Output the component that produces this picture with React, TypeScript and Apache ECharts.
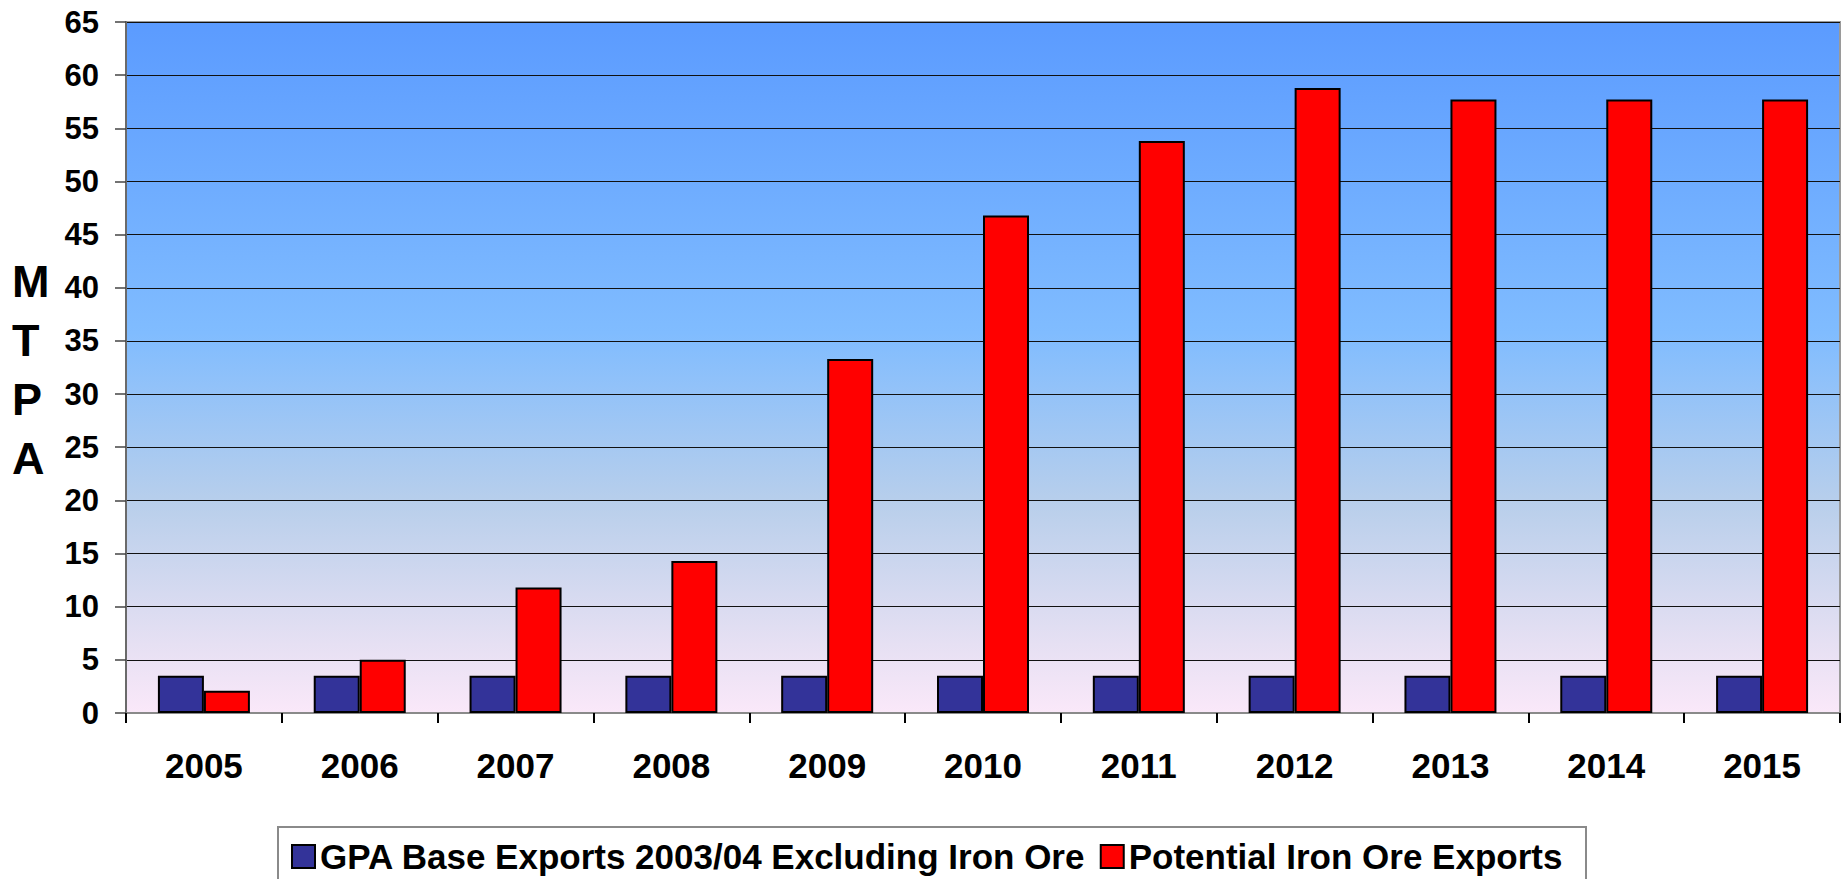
import React, { useEffect, useRef } from "react";
import * as echarts from "echarts";

const years = ["2005", "2006", "2007", "2008", "2009", "2010", "2011", "2012", "2013", "2014", "2015"];
const gpaBase = [3.5, 3.5, 3.5, 3.5, 3.5, 3.5, 3.5, 3.5, 3.5, 3.5, 3.5];
const ironOre = [2.1, 5.0, 11.8, 14.3, 33.3, 46.8, 53.8, 58.8, 57.7, 57.7, 57.7];
const seriesNames = ["GPA Base Exports 2003/04 Excluding Iron Ore", "Potential Iron Ore Exports"];
const yTicks = { min: 0, max: 65, interval: 5 };

const FONT = "'Liberation Sans', Arial, sans-serif";

export default function App() {
  const ref = useRef<HTMLDivElement>(null);
  useEffect(() => {
    if (!ref.current) return;
    const chart = echarts.init(ref.current, null, { renderer: "svg" });
    chart.setOption({
      animation: false,
      backgroundColor: "#ffffff",
      textStyle: { fontFamily: FONT },
      grid: {
        left: 126,
        top: 22,
        right: 6,
        bottom: 166,
        show: true,
        borderColor: "#9a9a9a",
        borderWidth: 2,
        backgroundColor: new echarts.graphic.LinearGradient(0, 0, 0, 1, [
          { offset: 0, color: "#5b9bff" },
          { offset: 0.45, color: "#80bcff" },
          { offset: 0.7, color: "#b9cfeb" },
          { offset: 0.9, color: "#e6e0f3" },
          { offset: 1, color: "#fae8f9" },
        ]),
      },
      xAxis: {
        type: "category",
        data: years,
        axisLine: { show: true, lineStyle: { color: "#8a8a8a", width: 2 } },
        axisTick: { show: true, length: 10, lineStyle: { color: "#000", width: 2 } },
        axisLabel: {
          color: "#000",
          fontWeight: "bold",
          fontSize: 35,
          fontFamily: FONT,
          margin: 35,
        },
        splitLine: { show: false },
      },
      yAxis: {
        type: "value",
        min: yTicks.min,
        max: yTicks.max,
        interval: yTicks.interval,
        axisLine: { show: true, lineStyle: { color: "#6a6a6a", width: 2 } },
        axisTick: { show: true, length: 11, lineStyle: { color: "#444", width: 1.5 } },
        axisLabel: {
          color: "#000",
          fontWeight: "bold",
          fontSize: 31,
          fontFamily: FONT,
          margin: 27,
        },
        splitLine: { show: true, lineStyle: { color: "#111", width: 1.2 } },
      },
      legend: {
        left: 291,
        top: 839,
        padding: 0,
        itemWidth: 23,
        itemHeight: 23,
        itemGap: 14,
        icon: "rect",
        textStyle: { color: "#000", fontWeight: "bold", fontSize: 35, fontFamily: FONT },
        data: seriesNames,
      },
      graphic: [
        {
          type: "rect",
          z: -1,
          shape: { x: 278, y: 827, width: 1308, height: 80 },
          style: { fill: "#ffffff", stroke: "#8a8a8a", lineWidth: 2 },
        },
        {
          type: "text",
          left: 12,
          top: 252,
          style: {
            text: "M\nT\nP\nA",
            font: `bold 45px ${FONT}`,
            fill: "#000",
            align: "center",
            lineHeight: 59,
          },
        },
      ],
      series: [
        {
          name: seriesNames[0],
          type: "bar",
          data: gpaBase,
          barWidth: 46,
          barGap: "0%",
          itemStyle: { color: "#333399", borderColor: "#000", borderWidth: 2 },
        },
        {
          name: seriesNames[1],
          type: "bar",
          data: ironOre,
          barWidth: 46,
          barGap: "0%",
          itemStyle: { color: "#ff0000", borderColor: "#000", borderWidth: 2 },
        },
      ],
    });
    return () => chart.dispose();
  }, []);
  return (
    <div
      ref={ref}
      style={{ position: "fixed", left: 0, top: 0, width: 1846, height: 879 }}
    />
  );
}
